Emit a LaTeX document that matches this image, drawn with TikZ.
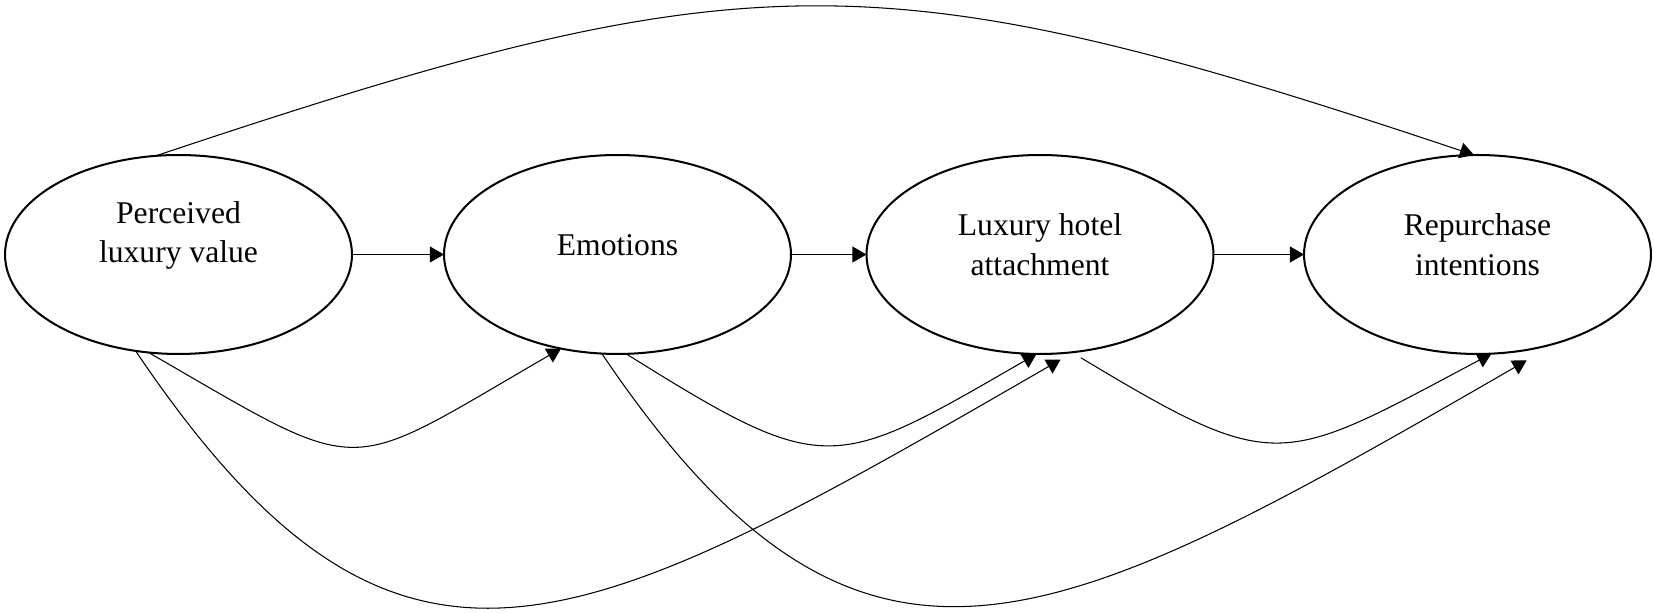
\documentclass[tikz,border=0pt]{standalone}
\usepackage{fontspec}
\setmainfont{Liberation Serif}
\usetikzlibrary{arrows.meta,shapes.geometric}

\begin{document}
\begin{tikzpicture}[x=0.02cm,y=0.02cm,
        var/.style={draw,ellipse,line width=1.15pt,minimum width=6.94cm,minimum height=3.98cm,inner sep=0pt,outer sep=0pt},
        lbl/.style={align=center,font=\fontsize{18}{22.7}\selectfont},
        conn/.style={line width=0.6pt,-{Triangle[length=8pt,width=9pt]}}]
                    \useasboundingbox (0,0) rectangle (1654,614);

                    \node[var] (e1) at (178.5,359.5) {};
                    \node[var] (e2) at (617.5,359.5) {};
                    \node[var] (e3) at (1040,359.5) {};
                    \node[var] (e4) at (1477.5,359.5) {};

                    \node[lbl] (t1) at ([yshift=0.38cm]e1.center) {Perceived\\luxury value};
                    \node[lbl] (t2) at ([yshift=0.19cm]e2.center) {Emotions};
                    \node[lbl] (t3) at ([yshift=0.19cm]e3.center) {Luxury hotel\\attachment};
                    \node[lbl] (t4) at ([yshift=0.19cm]e4.center) {Repurchase\\intentions};

                    \draw[conn] (e1) -- (e2);
                    \draw[conn] (e2) -- (e3);
                    \draw[conn] (e3) -- (e4);

                    \draw[conn] (e1.103) .. controls +(18.5:624) and +(161.5:629) .. (e4.92.7);

                    \draw[conn] (e1.253) .. controls +(-30:256) and +(210:256) .. (e2.239);
                    \draw[conn] (e2.-85) .. controls +(-32:236) and +(210:236) .. (e3.-92);
                    \draw[conn,shorten <=6pt] (e3.-72) .. controls +(-31:240) and +(208:240) .. (e4.-82);

                    \draw[conn,shorten >=8.5pt] (e1.246) .. controls +(-56:470) and +(210:575) .. (e3.-71.5);
                    \draw[conn,shorten >=20pt] (e2.-99) .. controls +(-56:465) and +(210:585) .. (e4.-48);
                \end{tikzpicture}
\end{document}
